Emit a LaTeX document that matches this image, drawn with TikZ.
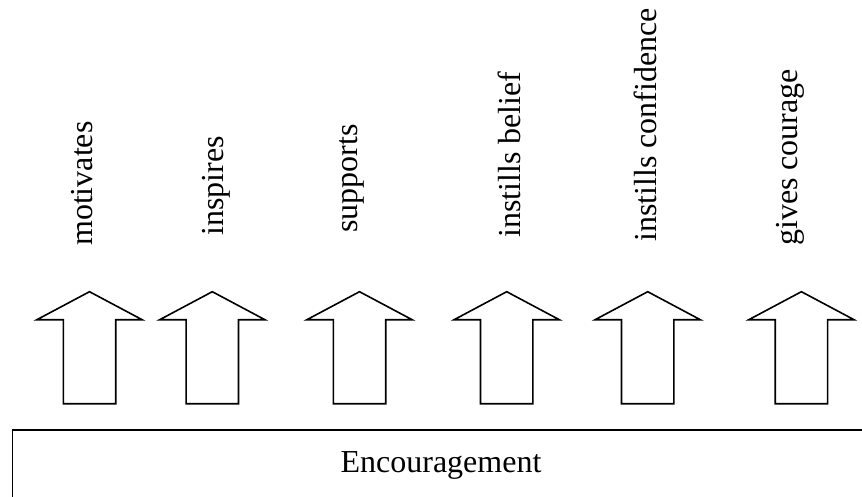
\documentclass[tikz,border=0pt]{standalone}
\usepackage{fontspec}
\setmainfont{Liberation Serif}
\begin{document}
\begin{tikzpicture}[x=1bp,y=-1bp,
  outline/.style={draw=black,line width=1.6bp,line join=miter},
  verb/.style={rotate=90,anchor=base west,inner sep=0pt,
    font=\fontsize{32bp}{38bp}\selectfont},
  uparrow/.pic={
    \draw[outline] (0,291.7) -- (52.6,319.7) -- (26.2,319.7) -- (26.2,403.7)
      -- (-26.2,403.7) -- (-26.2,319.7) -- (-52.6,319.7) -- cycle;
  }]
\useasboundingbox (0,0) rectangle (862,497);
\clip (0,0) rectangle (862,497);

% base box, running off the right and bottom edges
\draw[outline] (12.3,430) rectangle (900,540);
\node[inner sep=0pt,anchor=base,font=\fontsize{32bp}{38bp}\selectfont]
  (enc) at (441,472) {Encouragement};

% upward arrows
\pic (a1) at (89.5,0) {uparrow};
\pic (a2) at (212.3,0) {uparrow};
\pic (a3) at (359.5,0) {uparrow};
\pic (a4) at (506.7,0) {uparrow};
\pic (a5) at (647.7,0) {uparrow};
\pic (a6) at (801.4,0) {uparrow};

% rotated effect labels
\node[verb] (l1) at (92,246) {motivates};
\node[verb] (l2) at (223.5,236) {inspires};
\node[verb] (l3) at (357,233) {supports};
\node[verb] (l4) at (520,238) {instills belief};
\node[verb] (l5) at (656.5,242) {instills confidence};
\node[verb] (l6) at (797,246) {gives courage};
\end{tikzpicture}
\end{document}
